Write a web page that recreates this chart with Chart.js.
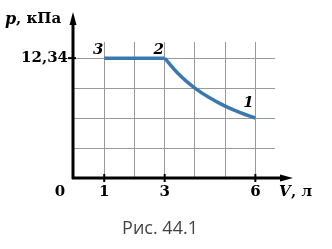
<!DOCTYPE html>
<html><head><meta charset="utf-8">
<script src="https://cdn.jsdelivr.net/npm/chart.js@4/dist/chart.umd.min.js"></script>
<style>html,body{margin:0;padding:0;background:#fff;}#w{width:332px;height:249px;position:relative;}</style>
</head><body><div id="w"><canvas id="c" width="332" height="249"></canvas></div>
<script>
// data
const isobarV = [1, 3];
const isobarP = [12.34, 12.34];
const isothermV = [3, 3.5, 4, 4.5, 5, 5.5, 6];
const isothermP = [12.34, 10.58, 9.26, 8.23, 7.40, 6.73, 6.17];
const xGrid = [1, 2, 3, 4, 5, 6];
const yGrid = [3.085, 6.17, 9.255, 12.34];
const xTickLabels = [1, 3, 6];
const yTickLabels = [12.34];
const pointNames = [{v:1,p:12.34,t:'3'},{v:3,p:12.34,t:'2'},{v:6,p:6.17,t:'1'}];

const blue = '#3b78b0';
const toPts = (xs, ys) => xs.map((x, i) => ({x, y: ys[i]}));

const overlay = {
  id: 'overlay',
  afterDraw(chart) {
    const ctx = chart.ctx, xs = chart.scales.x, ys = chart.scales.y;
    const x0 = xs.getPixelForValue(0) - 1, y0 = ys.getPixelForValue(0);
    ctx.save();
    ctx.strokeStyle = '#000'; ctx.fillStyle = '#000'; ctx.lineWidth = 3;
    // y axis
    ctx.beginPath(); ctx.moveTo(x0, y0 + 1); ctx.lineTo(x0, 20); ctx.stroke();
    ctx.beginPath(); ctx.moveTo(x0, 12); ctx.lineTo(x0 - 3.5, 25); ctx.lineTo(x0 + 3.5, 25); ctx.closePath(); ctx.fill();
    // x axis
    ctx.beginPath(); ctx.moveTo(x0 - 1, y0); ctx.lineTo(284, y0); ctx.stroke();
    ctx.beginPath(); ctx.moveTo(293, y0); ctx.lineTo(280, y0 - 3.5); ctx.lineTo(280, y0 + 3.5); ctx.closePath(); ctx.fill();
    // ticks
    ctx.lineWidth = 2;
    xTickLabels.forEach(v => { const px = xs.getPixelForValue(v); ctx.beginPath(); ctx.moveTo(px, y0 - 4); ctx.lineTo(px, y0 + 4); ctx.stroke(); });
    yTickLabels.forEach(v => { const py = ys.getPixelForValue(v); ctx.beginPath(); ctx.moveTo(x0 - 5, py); ctx.lineTo(x0 + 3, py); ctx.stroke(); });
    // labels
    ctx.font = 'bold 15px "DejaVu Serif"'; ctx.textBaseline = 'middle';
    ctx.textAlign = 'center';
    ctx.fillText('0', 60, 192);
    xTickLabels.forEach(v => ctx.fillText(String(v), xs.getPixelForValue(v), 192));
    ctx.textAlign = 'right';
    yTickLabels.forEach(v => ctx.fillText(String(v).replace('.', ','), x0 - 5, ys.getPixelForValue(v)));
    // axis titles
    ctx.textAlign = 'left';
    ctx.font = 'bold italic 16px "DejaVu Serif"';
    ctx.fillText('p', 5, 20);
    ctx.font = 'bold 15px "DejaVu Serif"';
    ctx.fillText(', кПа', 16, 19);
    ctx.font = 'bold italic 15px "DejaVu Serif"';
    ctx.fillText('V', 279, 192);
    ctx.font = 'bold 15px "DejaVu Serif"';
    ctx.fillText(', л', 291, 192);
    // point names
    ctx.font = 'bold italic 15px "DejaVu Serif"'; ctx.textAlign = 'center';
    pointNames.forEach((p, i) => {
      const px = xs.getPixelForValue(p.v), py = ys.getPixelForValue(p.p);
      const dx = i === 2 ? -7 : -6, dy = i === 2 ? -15 : -8;
      ctx.fillText(p.t, px + dx, py + dy);
    });
    // caption
    ctx.font = '18px "Open Sans"'; ctx.fillStyle = '#444';
    ctx.fillText('Рис. 44.1', 160, 229);
    ctx.restore();
  }
};

new Chart(document.getElementById('c'), {
  type: 'scatter',
  data: { datasets: [
    { data: toPts(isobarV, isobarP), showLine: true, borderColor: blue, borderWidth: 3.5, pointRadius: 0, tension: 0 },
    { data: toPts(isothermV, isothermP), showLine: true, borderColor: blue, borderWidth: 3.5, pointRadius: 0, tension: 0.4 }
  ]},
  options: {
    responsive: false, animation: false, devicePixelRatio: 1,
    layout: { padding: { left: 74, right: 57, top: 42, bottom: 71 } },
    plugins: { legend: { display: false }, tooltip: { enabled: false }, title: { display: false } },
    scales: {
      x: { type: 'linear', min: 0, max: 6.65,
        afterBuildTicks: s => { s.ticks = xGrid.map(v => ({value: v})); },
        afterFit: s => { s.height = 0; },
        ticks: { display: false }, border: { display: false },
        grid: { drawTicks: false, color: '#999', lineWidth: 1 } },
      y: { type: 'linear', min: 0, max: 14,
        afterBuildTicks: s => { s.ticks = yGrid.map(v => ({value: v})); },
        afterFit: s => { s.width = 0; },
        ticks: { display: false }, border: { display: false },
        grid: { drawTicks: false, color: '#999', lineWidth: 1 } }
    }
  },
  plugins: [overlay]
});
</script></body></html>
